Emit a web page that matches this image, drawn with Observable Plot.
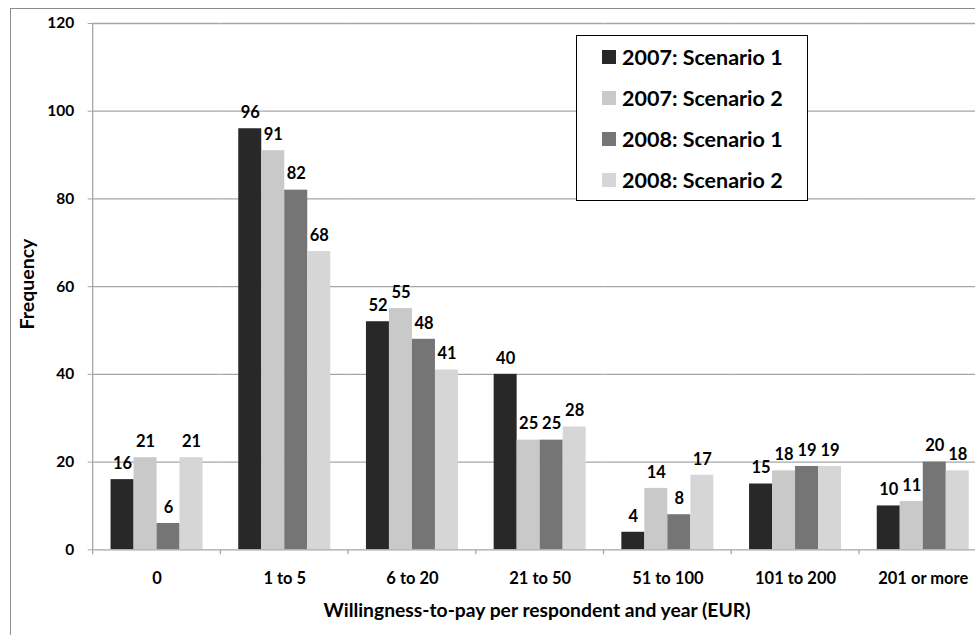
<!DOCTYPE html>
<html>
<head>
<meta charset="utf-8">
<script src="https://cdn.jsdelivr.net/npm/d3@7"></script>
<script src="https://cdn.jsdelivr.net/npm/@observablehq/plot@0.6"></script>
<style>
  html, body { margin: 0; padding: 0; background: #fff; }
  body { font-family: Lato, "Open Sans", sans-serif; }
  #wrap { position: relative; width: 975px; height: 635px; overflow: hidden; background: #fff; }
  #outer { position: absolute; left: 10px; top: 8px; right: -5px; bottom: -5px; border-left: 1px solid #8c8c8c; border-top: 1px solid #8c8c8c; pointer-events: none; }
  #chart { position: absolute; left: 0; top: 0; }
  .title { position: absolute; font-weight: 700; color: #000; white-space: nowrap; }
  #xtitle { left: 537px; top: 609px; transform: translate(-50%, -50%); font-size: 19.3px; }
  #ytitle { left: 26px; top: 284px; transform: translate(-50%, -50%) rotate(-90deg); font-size: 19.5px; }
  #legend { position: absolute; left: 576px; top: 35px; width: 230px; border: 1px solid #000; background: #fff; padding: 0; }
  .item { height: 41px; display: flex; align-items: center; padding-left: 25px; font-weight: 700; font-size: 21.5px; color: #000; }
  .sw { width: 14px; height: 14px; margin-right: 6px; flex: none; }
</style>
</head>
<body>
<div id="wrap">
  <div id="outer"></div>
  <div id="chart"></div>
  <div id="xtitle" class="title"></div>
  <div id="ytitle" class="title"></div>
  <div id="legend"></div>
</div>
<script>
const categories = ["0", "1 to 5", "6 to 20", "21 to 50", "51 to 100", "101 to 200", "201 or more"];
const seriesNames = ["2007: Scenario 1", "2007: Scenario 2", "2008: Scenario 1", "2008: Scenario 2"];
const s2007_1 = [16, 96, 52, 40, 4, 15, 10];
const s2007_2 = [21, 91, 55, 25, 14, 18, 11];
const s2008_1 = [6, 82, 48, 25, 8, 19, 20];
const s2008_2 = [21, 68, 41, 28, 17, 19, 18];
const yTicks = [0, 20, 40, 60, 80, 100, 120];
const colors = ["#282828", "#c9c9c9", "#757575", "#d6d6d6"];
const xTitle = "Willingness-to-pay per respondent and year (EUR)";
const yTitle = "Frequency";

const seriesValues = [s2007_1, s2007_2, s2008_1, s2008_2];
const data = [];
seriesValues.forEach((arr, si) => arr.forEach((v, ci) => data.push({cat: categories[ci], series: seriesNames[si], value: v})));

const gridColor = "#a6a6a6";

const chart = Plot.plot({
  width: 975,
  height: 635,
  marginLeft: 92.7,
  marginRight: -11.6,
  marginTop: 23,
  marginBottom: 635 - 549.3,
  style: {fontFamily: "Lato, sans-serif", overflow: "hidden", background: "transparent"},
  fx: {domain: categories, padding: 0, round: false, label: null, axis: null},
  x: {domain: seriesNames, paddingInner: 0, paddingOuter: 0.776, round: false, axis: null},
  y: {domain: [0, 120], label: null, axis: null},
  color: {domain: seriesNames, range: colors},
  marks: [
    Plot.ruleY(yTicks.slice(1), {stroke: gridColor, strokeWidth: 1.3}),
    Plot.barY(data, {fx: "cat", x: "series", y: "value", fill: "series"}),
    Plot.ruleY([0], {stroke: gridColor, strokeWidth: 1.3}),
    Plot.text(data, {fx: "cat", x: "series", y: "value", text: d => String(d.value), dy: -16, fontSize: 16.5, fontWeight: "bold", fill: "#000"}),
    Plot.axisY({ticks: yTicks, tickSize: 5, tickPadding: 14, stroke: gridColor, fill: "#000", fontSize: 15.5, fontWeight: "bold", label: null, tickFormat: d => String(d)}),
    Plot.axisFx({anchor: "bottom", tickSize: 0, tickPadding: 22, fontSize: 16.5, fontWeight: "bold", fill: "#000", label: null})
  ]
});

// axis line and category boundary ticks drawn from the chart's own scales
const fxs = chart.scale("fx");
const ys = chart.scale("y");
const svg = d3.select(chart);
const y0 = ys.apply(0);
const yTop = ys.apply(120);
const bounds = categories.map(c => fxs.apply(c));
bounds.push(fxs.apply(categories[categories.length - 1]) + fxs.bandwidth);
const g = svg.append("g").attr("stroke", gridColor).attr("stroke-width", 1.3);
g.append("line").attr("x1", bounds[0]).attr("x2", bounds[0]).attr("y1", yTop).attr("y2", y0 + 5);
bounds.slice(1).forEach(b => g.append("line").attr("x1", b).attr("x2", b).attr("y1", y0).attr("y2", y0 + 5));

document.getElementById("chart").appendChild(chart);
document.getElementById("xtitle").textContent = xTitle;
document.getElementById("ytitle").textContent = yTitle;

const legend = document.getElementById("legend");
seriesNames.forEach((name, i) => {
  const item = document.createElement("div");
  item.className = "item";
  const sw = document.createElement("span");
  sw.className = "sw";
  sw.style.background = colors[i];
  const t = document.createElement("span");
  t.textContent = name;
  item.appendChild(sw);
  item.appendChild(t);
  legend.appendChild(item);
});
</script>
</body>
</html>
